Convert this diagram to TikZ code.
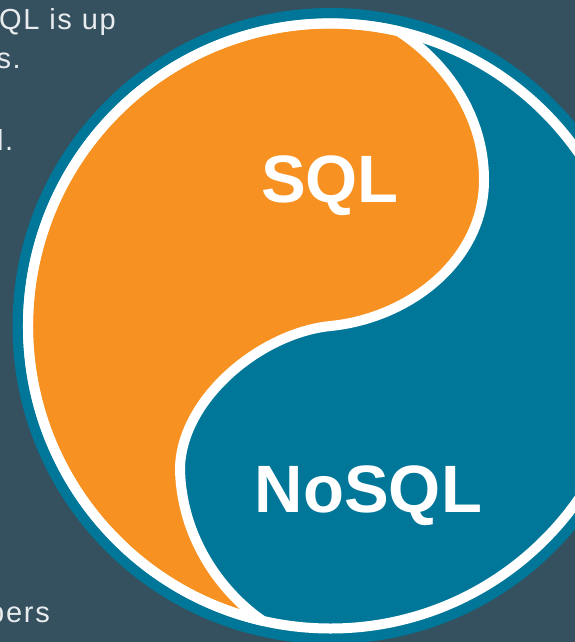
\documentclass[tikz,border=0pt]{standalone}
\usepackage{fontspec}
\setmainfont{Liberation Sans}
\newfontfamily\paperfont[LetterSpace=6]{Liberation Sans}

\definecolor{slatebg}{RGB}{53,80,94}
\definecolor{sqlorange}{RGB}{247,145,33}
\definecolor{nosqlteal}{RGB}{0,119,153}
\definecolor{paper}{RGB}{232,236,238}

\begin{document}
\begin{tikzpicture}[
		x=1pt, y=-1pt,
		body/.style={
			text=paper,
			inner sep=0pt,
			anchor=base east,
			font=\paperfont\fontsize{29}{34}\selectfont
		},
		bigword/.style={
			text=white,
			inner sep=0pt,
			anchor=base,
			font=\fontsize{67}{67}\selectfont\bfseries
		},
		seam/.style={
			draw=white,
			line width=10pt,
			line join=round
		}
		]
		
		\useasboundingbox (0,0) rectangle (575,642);
		\clip (0,0) rectangle (575,642);
		\fill[slatebg] (0,0) rectangle (575,642);
		
		\coordinate (o) at (330.5,326);
		\coordinate (tiptop) at (398.5,31.3);
		\coordinate (tipbot) at (262.5,620.7);
		
		% outer teal rim
		\fill[nosqlteal] (o) circle[radius=318];
		
		% orange half: S curve down through the centre, then the left arc back up
		\filldraw[seam, fill=sqlorange]
		(tiptop) .. controls (440,58) and (484,110) .. (484,180)
		.. controls (484,260) and (410,318) .. (o)
		.. controls (260,333) and (180,400) .. (180,470)
		.. controls (182,542) and (225,595) .. (tipbot)
		arc[start angle=103, end angle=283, radius=302.5] -- cycle;
		
		% white ring
		\draw[seam] (o) circle[radius=302.5];
		
		\node[bigword] (sql) at (330,202) {SQL};
		\node[bigword] (nosql) at (368.5,512) {NoSQL};
		
		% cut-off paragraph on the left
		\node[body] (upline) at (116,30) {QL is up};
		\node[body] (sline) at (21,68) {s.};
		\node[body] (lline) at (13.5,150) {l.};
		\node[body] (persline) at (50,622) {pers};
		
	\end{tikzpicture}
\end{document}
